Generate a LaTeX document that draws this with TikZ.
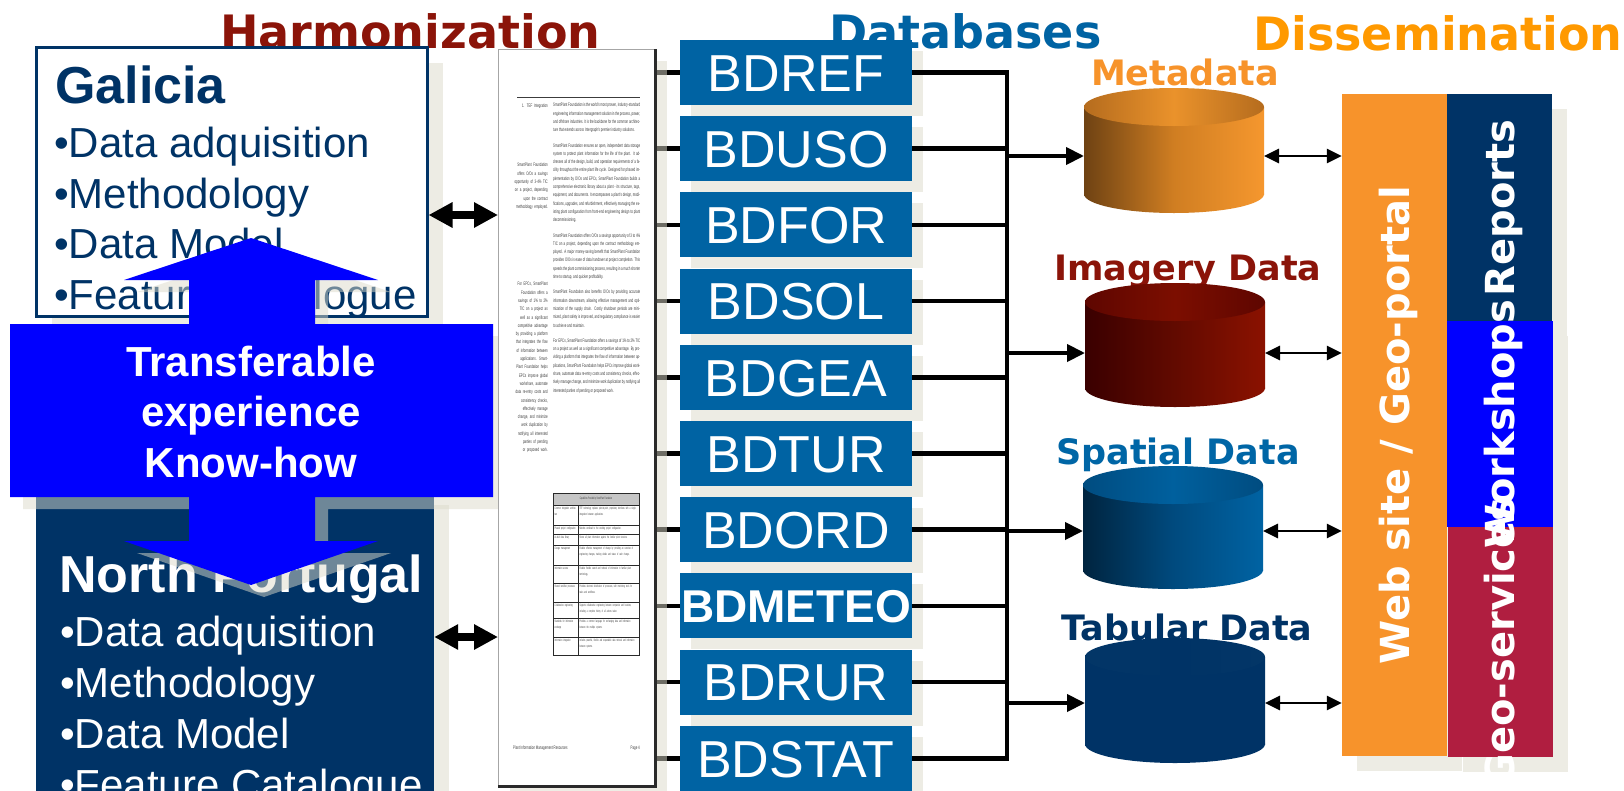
\documentclass[tikz,border=0pt]{standalone}
\usepackage{fontspec}
\setmainfont{Liberation Sans}
\newfontfamily\dvb{DejaVu Sans}
\newfontfamily\pagefont[FakeStretch=0.58]{Liberation Sans}
\newfontfamily\tablefont[FakeStretch=0.45]{Liberation Sans}
\usetikzlibrary{arrows.meta,shadows}

\definecolor{navy}{HTML}{003366}
\definecolor{harm}{HTML}{8B1409}
\definecolor{dbblue}{HTML}{0063A3}
\definecolor{dissor}{HTML}{FF9900}
\definecolor{metaor}{HTML}{F7932A}
\definecolor{spblue}{HTML}{0066A6}
\definecolor{webor}{HTML}{F7932B}
\definecolor{pureblue}{HTML}{0000FF}
\definecolor{crimson}{HTML}{B01E40}
\definecolor{shc}{HTML}{DDDBCB}
\definecolor{pgtext}{HTML}{3C3C3C}
\definecolor{pgdark}{HTML}{2A2A2A}
\definecolor{mBl}{HTML}{6E4213}
\definecolor{mBm}{HTML}{D07E22}
\definecolor{mBr}{HTML}{F5972E}
\definecolor{mTe}{HTML}{B56C1E}
\definecolor{mTm}{HTML}{EA922B}
\definecolor{iBl}{HTML}{3A0000}
\definecolor{iBm}{HTML}{620A00}
\definecolor{iBr}{HTML}{8B1200}
\definecolor{iTe}{HTML}{5E0600}
\definecolor{iTm}{HTML}{7C0E00}
\definecolor{sBl}{HTML}{00243F}
\definecolor{sBm}{HTML}{004A7E}
\definecolor{sBr}{HTML}{0063A3}
\definecolor{sTe}{HTML}{004C80}
\definecolor{sTm}{HTML}{00609E}
\definecolor{tBl}{HTML}{003366}
\definecolor{tTe}{HTML}{033667}

\newcommand{\fsz}[1]{\fontsize{#1}{#1}\selectfont}
% cylinder: cx, ytop, ybot, body left/mid/right, top edge/mid
\newcommand{\drawcyl}[8]{%
  \shade[left color=#4, right color=#6, middle color=#5] (#1-90,#2) rectangle (#1+90,#3);
  \shade[left color=#4, right color=#6, middle color=#5] (#1,#3) ellipse [x radius=90, y radius=19];
  \shade[left color=#7, right color=#7, middle color=#8] (#1,#2) ellipse [x radius=90, y radius=19];
}

\begin{document}
\begin{tikzpicture}[x=1pt,y=-1pt,
  sh/.style={drop shadow={shadow xshift=#1pt, shadow yshift=-#1pt, fill=shc, opacity=0.5}},
  sh/.default=14,
  ttl/.style={font=\dvb\bfseries\fsz{46}, inner sep=0},
  clab/.style={font=\dvb\bfseries\fsz{35}, inner sep=0},
  bul/.style={font=\fsz{42}, inner sep=0, anchor=base west},
  head/.style={font=\bfseries\fsz{52}, inner sep=0, anchor=base west},
  tr/.style={font=\bfseries\fsz{42}, text=white, inner sep=0, anchor=base},
  bdbox/.style={fill=dbblue, text=white, font=\fsz{52}, minimum width=232pt,
     minimum height=65pt, inner sep=0, text height=37.4pt, text depth=0pt, sh=11},
  bar/.style={inner sep=0, sh=15},
  vtext/.style={rotate=90, anchor=base, text=white, font=\dvb\bfseries\fsz{40}, inner sep=0},
  conn/.style={line width=4.5pt},
  connsh/.style={line width=4.5pt, draw=shc, draw opacity=0.5},
  carrow/.style={line width=4pt, -{Triangle[length=18pt,width=17pt]}},
  darrow/.style={line width=2.8pt, {Triangle[length=15pt,width=14pt]}-{Triangle[length=15pt,width=14pt]}},
  bigdbl/.style={line width=8pt, {Triangle[length=24pt,width=24pt]}-{Triangle[length=24pt,width=24pt]}},
  pgtxt/.style={font=\pagefont\fontsize{5}{8.3}\selectfont, text=pgtext, inner sep=0},
  tbtxt/.style={font=\tablefont\fontsize{3.4}{5.6}\selectfont, text=pgtext, inner sep=0},
  arrowshape/.style={insert path={(251,238) -- (378,280) -- (315,280) -- (315,324) -- (493,324)
     -- (493,497) -- (315,497) -- (315,541) -- (378,541) -- (251,585) -- (124,541) -- (189,541)
     -- (189,497) -- (10,497) -- (10,324) -- (189,324) -- (189,280) -- (124,280) -- cycle}}
]
\useasboundingbox (0,0) rectangle (1624,790);
\clip (0,0) rectangle (1624,790);
\fill[white] (0,0) rectangle (1624,790);

% ---------- titles
\node[ttl, text=harm, anchor=base west] (tHarm) at (220,48) {Harmonization};
\node[ttl, text=dbblue, anchor=base west] (tDb) at (829,48) {Databases};
\node[ttl, text=dissor, anchor=base west] (tDis) at (1253,50) {Dissemination};

% ---------- Galicia
\node[draw=navy, line width=3pt, fill=white, minimum width=391pt, minimum height=269pt,
      inner sep=0, sh=16] (gal) at (231.5,181.5) {};
\node[head, text=navy] (galT) at (55,103) {Galicia};
\node[bul, text=navy] (g1) at (54,157) {•Data adquisition};
\node[bul, text=navy] (g2) at (54,208) {•Methodology};
\node[bul, text=navy] (g3) at (54,258) {•Data Model};
\node[bul, text=navy] (g4) at (54,309) {•Feature Catalogue};

% ---------- North Portugal
\node[fill=navy, minimum width=398pt, minimum height=320pt, inner sep=0, sh=15] (np) at (235,650) {};
\node[head, text=white] (npT) at (59,592) {North Portugal};
\node[bul, text=white] (n1) at (60,646) {•Data adquisition};
\node[bul, text=white] (n2) at (60,697) {•Methodology};
\node[bul, text=white] (n3) at (60,748) {•Data Model};
\node[bul, text=white] (n4) at (60,799) {•Feature Catalogue};

% ---------- transfer double arrow
\fill[shc, opacity=0.5, shift={(13,12)}, arrowshape];
\fill[pureblue, arrowshape];
\node[tr] (tr1) at (251,376) {Transferable};
\node[tr] (tr2) at (251,426) {experience};
\node[tr] (tr3) at (251,477) {Know-how};

% ---------- database boxes
\foreach \n/\lbl/\yy in {1/BDREF/72.5, 2/BDUSO/148.7, 3/BDFOR/224.9, 4/BDSOL/301.1,
   5/BDGEA/377.3, 6/BDTUR/453.5, 7/BDORD/529.7, 9/BDRUR/682.1, 10/BDSTAT/758.3}
  \node[bdbox] (bd\n) at (796,\yy) {\lbl};
\node[bdbox, font=\bfseries\fsz{46}, text height=33pt] (bd8) at (796,605.9) {BDMETEO};

% ---------- document page (area), stubs to databases
\node[minimum width=157pt, minimum height=737pt, inner sep=0, outer sep=0] (page) at (576.5,417.5) {};
\foreach \n in {1,...,10}
  \draw[conn] (page.east |- bd\n) -- (bd\n.west);

\path[sh=12, fill=white] (page.north west) rectangle (page.south east);
\draw[gray!70, line width=1pt] (page.south west) -- (page.north west) -- (page.north east);
\draw[pgdark, line width=3pt] (page.north east) -- (page.south east) -- (page.south west);
\draw[pgtext, line width=0.8pt] (517,97) -- (640,97);

\node[pgtxt, text width=87pt, align=justify, anchor=north west] (pgMain) at (553,103) {%
SmartPlant Foundation is the world's most proven, industry-standard engineering information management solution in the process, power, and offshore industries. It is the backbone for the common architecture that extends across Intergraph's premier industry solutions.\par\vspace{7pt}
SmartPlant Foundation ensures an open, independent data storage system to protect plant information for the life of the plant. It addresses all of the design, build, and operation requirements of a facility throughout the entire plant life cycle. Designed for phased implementation by O/Os and EPCs, SmartPlant Foundation builds a comprehensive electronic library about a plant - its structure, tags, equipment, and documents. It encompasses a plant's design, modifications, upgrades, and refurbishment, effectively managing the existing plant configuration from front-end engineering design to plant decommissioning.\par\vspace{7pt}
SmartPlant Foundation offers O/Os a savings opportunity of 3 to 4\% TIC on a project, depending upon the contract methodology employed. A major money-saving benefit that SmartPlant Foundation provides O/Os is ease of data handover at project completion. This speeds the plant commissioning process, resulting in a much shorter time to startup, and quicker profitability.\par\vspace{7pt}
SmartPlant Foundation also benefits O/Os by providing accurate information downstream, allowing effective management and optimization of the supply chain. Costly shutdown periods are minimized, plant safety is improved, and regulatory compliance is easier to achieve and maintain.\par\vspace{7pt}
For EPCs, SmartPlant Foundation offers a savings of 1\% to 2\% TIC on a project as well as a significant competitive advantage. By providing a platform that integrates the flow of information between applications, SmartPlant Foundation helps EPCs improve global workshare, automate data re-entry costs and consistency checks, effectively manage change, and minimize work duplication by notifying all interested parties of pending or proposed work.};

\node[pgtxt, text width=34pt, align=right, anchor=north east] (pgS1) at (548,104) {1. TEF Integration};
\node[pgtxt, text width=34pt, align=right, anchor=north east] (pgS2) at (548,163) {SmartPlant Foundation offers O/Os a savings opportunity of 3-4\% TIC on a project, depending upon the contract methodology employed.};
\node[pgtxt, text width=34pt, align=right, anchor=north east] (pgS3) at (548,282) {For EPCs, SmartPlant Foundation offers a savings of 1\% to 2\% TIC on a project as well as a significant competitive advantage by providing a platform that integrates the flow of information between applications. SmartPlant Foundation helps EPCs improve global workshare, automate data re-entry costs and consistency checks, effectively manage change, and minimize work duplication by notifying all interested parties of pending or proposed work.};

% table
\fill[gray!45] (553,493) rectangle (639,505);
\foreach \yy in {505,525,534,545,565,583,602,618,637}
  \draw[pgdark, line width=0.5pt] (553,\yy) -- (639,\yy);
\draw[pgdark, line width=0.5pt] (578,505) -- (578,655);
\draw[pgdark, line width=1pt] (553,493) rectangle (639,655);
\node[tbtxt] (tbH) at (596,499) {Capabilities Provided by SmartPlant Foundation};
\foreach \ry/\lt/\rt [count=\i] in {
 505/{Common integration architecture}/{TEF technology replaces point-to-point, proprietary interfaces with a single integration between applications.},
 525/{Phased project configuration}/{Matches workload to the evolving project configuration.},
 534/{As-built data library}/{Stores all plant information against the familiar plant structure.},
 545/{Change management}/{Enables effective management of change by providing an overview of engineering changes, tracking details and status of each change.},
 565/{Information access}/{Enables flexible search and retrieval of information in familiar plant terminology.},
 583/{Shared workflow processes}/{Provides electronic distribution of processes, with monitoring tools for tasks and workflows.},
 602/{Collaborative engineering}/{Supports collaborative engineering between companies and locations, including a complete history of all actions taken.},
 618/{Standards for information exchange}/{Provides a common language for exchanging data and information between the multiple systems.},
 637/{Information integration}/{Includes powerful, flexible and expandable data retrieval and information between systems.}}
{
  \node[tbtxt, text width=22pt, align=left, anchor=north west] (tl\i) at (554.5,\ry+1.8) {\lt};
  \node[tbtxt, text width=57pt, align=left, anchor=north west] (tr\i) at (579.5,\ry+1.8) {\rt};
}
\node[pgtxt, anchor=base west] (pgF1) at (513,749) {Plant Information Management Resources};
\node[pgtxt, anchor=base east] (pgF2) at (640,749) {Page 4};

% ---------- left double arrows
\coordinate (ga) at (465,215);
\coordinate (nb) at (465,637);
\draw[bigdbl] (ga -| gal.east) -- (ga -| page.west);
\draw[bigdbl] (nb -| np.east) -- (nb -| page.west);

% ---------- bus (faint shadow first, then black lines)
\coordinate (bus) at (1007,0);
\begin{scope}[shift={(10,10)}]
  \draw[connsh] (bd1.east) -- (bd1.east -| bus) -- (bd10.east -| bus) -- (bd10.east);
\end{scope}
\draw[conn] (bd1.east) -- (bd1.east -| bus) -- (bd10.east -| bus) -- (bd10.east);
\foreach \n in {2,...,9}
  \draw[conn] (bd\n.east) -- (bd\n.east -| bus);

% ---------- dissemination bars
\node[bar, fill=webor, minimum width=105pt, minimum height=662pt] (web) at (1394.5,425) {};
\node[bar, fill=navy, minimum width=105pt, minimum height=227pt] (rep) at (1499.5,207.5) {};
\node[bar, fill=pureblue, minimum width=106pt, minimum height=206pt] (work) at (1500,424) {};
\node[bar, fill=crimson, minimum width=105pt, minimum height=230pt] (geo) at (1500.5,642) {};
\node[vtext] (webT) at (1409,425) {Web site / Geo-portal};
\node[vtext] (repT) at (1514,208) {Reports};
\node[vtext] (workT) at (1514,424) {Workshops};
\node[vtext] (geoT) at (1514,642) {Geo-services};

% ---------- cylinders
\node[clab, text=metaor, anchor=base] (lab1) at (1185,85) {Metadata};
\node[clab, text=harm, anchor=base] (lab2) at (1188,280) {Imagery Data};
\node[clab, text=spblue, anchor=base] (lab3) at (1178,464) {Spatial Data};
\node[clab, text=navy, anchor=base] (lab4) at (1187,640) {Tabular Data};

\drawcyl{1174}{107}{194}{mBl}{mBm}{mBr}{mTe}{mTm}
\drawcyl{1175}{302}{388}{iBl}{iBm}{iBr}{iTe}{iTm}
\drawcyl{1173}{485}{570}{sBl}{sBm}{sBr}{sTe}{sTm}
\drawcyl{1175}{657}{744}{tBl}{tBl}{tBl}{tTe}{tBl}

\node[minimum width=180pt, minimum height=2pt, inner sep=0, outer sep=0] (cyl1) at (1174,156) {};
\node[minimum width=180pt, minimum height=2pt, inner sep=0, outer sep=0] (cyl2) at (1175,353) {};
\node[minimum width=180pt, minimum height=2pt, inner sep=0, outer sep=0] (cyl3) at (1173,531) {};
\node[minimum width=180pt, minimum height=2pt, inner sep=0, outer sep=0] (cyl4) at (1175,703) {};

\foreach \n in {1,...,4} {
  \draw[carrow] (cyl\n.west -| bus) -- (cyl\n.west);
  \draw[darrow] (cyl\n.east) -- (cyl\n.east -| web.west);
}
\end{tikzpicture}
\end{document}
